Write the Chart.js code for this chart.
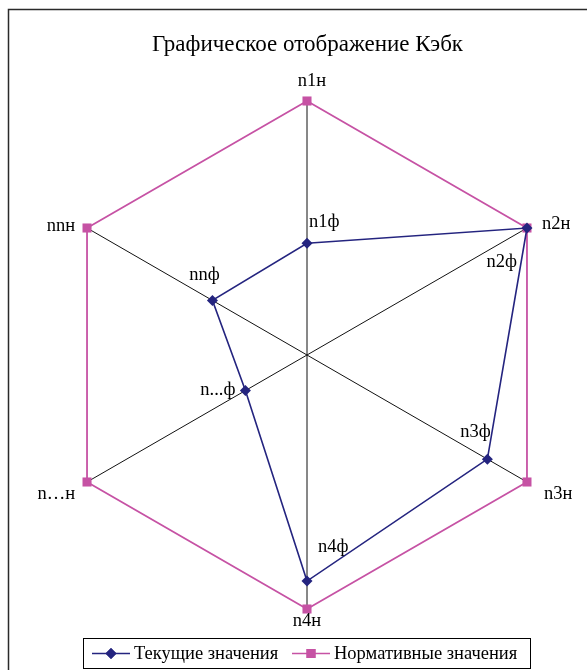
<!DOCTYPE html>
<html>
<head>
<meta charset="utf-8">
<script src="https://cdn.jsdelivr.net/npm/chart.js@4/dist/chart.umd.min.js"></script>
<style>
  html, body { margin: 0; padding: 0; background: #fff; }
  canvas { display: block; }
</style>
</head>
<body>
<canvas id="c" width="587" height="670"></canvas>
<script>
// Axes of the diagram, clockwise from the top
const axes = ['n1', 'n2', 'n3', 'n4', 'n...', 'nn'];
// Current coefficient values and the normative level
const currentValues = [0.44, 1.0, 0.82, 0.89, 0.28, 0.43];
const normativeValues = [1, 1, 1, 1, 1, 1];
// Names written next to each point
const currentNames = ['n1ф', 'n2ф', 'n3ф', 'n4ф', 'n...ф', 'nnф'];
const normativeNames = ['n1н', 'n2н', 'n3н', 'n4н', 'n…н', 'nnн'];
const seriesNames = ['Текущие значения', 'Нормативные значения'];
const titleText = 'Графическое отображение Кэбк';

const BLUE = '#24247f';
const PINK = '#c652a4';
const FONT = '"Liberation Serif", "Times New Roman", serif';

// Offsets of the point names from their markers: [dx, dy, align]
const currentNameOffsets = [[2, -21, 'left'], [-10, 34, 'right'], [-12, -27, 'center'], [11, -34, 'left'], [-10, 0, 'right'], [-8, -25, 'center']];
const normativeNameOffsets = [[5, -20, 'center'], [15, -4, 'left'], [17, 12, 'left'], [0, 12, 'center'], [-12, 12, 'right'], [-12, -2, 'right']];

const decorations = {
  id: 'decorations',
  beforeDraw(chart) {
    const ctx = chart.ctx;
    ctx.save();
    ctx.strokeStyle = '#2a2a2a';
    ctx.lineWidth = 1.5;
    ctx.beginPath();
    ctx.moveTo(8.5, 670);
    ctx.lineTo(8.5, 9.5);
    ctx.lineTo(587, 9.5);
    ctx.stroke();
    ctx.restore();
  },
  afterDraw(chart) {
    const ctx = chart.ctx;
    ctx.save();
    ctx.fillStyle = '#000';
    ctx.font = '18.5px ' + FONT;
    ctx.textBaseline = 'middle';
    const sets = [[0, currentNames, currentNameOffsets], [1, normativeNames, normativeNameOffsets]];
    sets.forEach(([di, names, offs]) => {
      const meta = chart.getDatasetMeta(di);
      meta.data.forEach((pt, i) => {
        const [dx, dy, align] = offs[i];
        ctx.textAlign = align;
        ctx.fillText(names[i], pt.x + dx, pt.y + dy);
      });
    });

    // legend box
    const box = { x: 83.5, y: 638.5, w: 447, h: 30 };
    ctx.strokeStyle = '#000';
    ctx.lineWidth = 1;
    ctx.strokeRect(box.x, box.y, box.w, box.h);
    const ly = box.y + box.h / 2;
    const items = [
      { x: 92, color: BLUE, style: 'rectRot', r: 5.5 },
      { x: 292, color: PINK, style: 'rect', r: 6.4 }
    ];
    ctx.font = '18.5px ' + FONT;
    ctx.textAlign = 'left';
    items.forEach((it, i) => {
      ctx.strokeStyle = it.color;
      ctx.lineWidth = 1.5;
      ctx.beginPath();
      ctx.moveTo(it.x, ly);
      ctx.lineTo(it.x + 38, ly);
      ctx.stroke();
      ctx.fillStyle = it.color;
      Chart.helpers.drawPoint(ctx, { pointStyle: it.style, radius: it.r, borderWidth: 0 }, it.x + 19, ly);
      ctx.fill();
      ctx.fillStyle = '#000';
      ctx.fillText(seriesNames[i], it.x + 42, ly + 1);
    });
    ctx.restore();
  }
};

new Chart(document.getElementById('c'), {
  type: 'radar',
  data: {
    labels: axes,
    datasets: [
      {
        label: seriesNames[0],
        data: currentValues,
        borderColor: BLUE,
        backgroundColor: BLUE,
        borderWidth: 1.6,
        pointStyle: 'rectRot',
        pointRadius: 5.5,
        pointBackgroundColor: BLUE,
        pointBorderWidth: 0,
        fill: false,
        tension: 0
      },
      {
        label: seriesNames[1],
        data: normativeValues,
        borderColor: PINK,
        backgroundColor: PINK,
        borderWidth: 1.8,
        pointStyle: 'rect',
        pointRadius: 6.4,
        pointBackgroundColor: PINK,
        pointBorderWidth: 0,
        fill: false,
        tension: 0
      }
    ]
  },
  options: {
    responsive: false,
    animation: false,
    layout: { padding: { top: 0, left: 53.5, right: 25.5, bottom: 60.5 } },
    plugins: {
      legend: { display: false },
      tooltip: { enabled: false },
      title: {
        display: true,
        text: titleText,
        color: '#000',
        font: { family: FONT, size: 23, weight: 'normal' },
        padding: { top: 31, bottom: 42.8 }
      }
    },
    scales: {
      r: {
        min: 0,
        max: 1,
        ticks: { display: false },
        grid: { display: false },
        angleLines: { display: true, color: '#111', lineWidth: 1 },
        pointLabels: { display: false }
      }
    }
  },
  plugins: [decorations]
});
</script>
</body>
</html>
